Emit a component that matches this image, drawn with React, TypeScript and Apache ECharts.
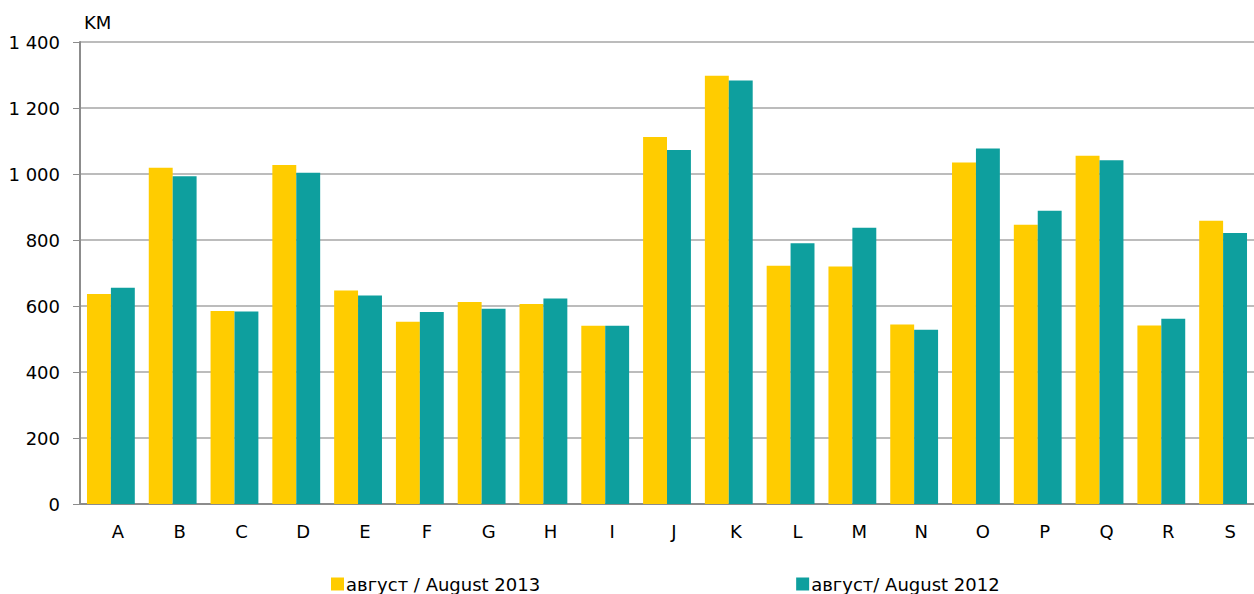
import React, { useEffect, useRef } from "react";
import * as echarts from "echarts";

const categories = ["A", "B", "C", "D", "E", "F", "G", "H", "I", "J", "K", "L", "M", "N", "O", "P", "Q", "R", "S"];
const aug2013 = [636, 1019, 585, 1027, 647, 552, 612, 606, 540, 1112, 1298, 722, 720, 544, 1035, 846, 1055, 541, 858];
const aug2012 = [655, 993, 583, 1004, 632, 582, 592, 623, 540, 1073, 1283, 790, 837, 528, 1077, 889, 1042, 561, 821];
const seriesNames = ["август / August 2013", "август/ August 2012"];
const unitLabel = "KM";

const FONT = "DejaVu Sans";
const FS = 18;

export default function App() {
  const ref = useRef<HTMLDivElement>(null);
  useEffect(() => {
    if (!ref.current) return;
    const chart = echarts.init(ref.current, undefined, { renderer: "svg" });
    chart.setOption({
      animation: false,
      backgroundColor: "#ffffff",
      textStyle: { fontFamily: FONT },
      grid: { left: 80, right: 0, top: 42, bottom: 90, containLabel: false },
      graphic: [
        {
          type: "text",
          left: 84,
          top: 13,
          style: { text: unitLabel, font: `${FS}px "${FONT}"`, fill: "#000" },
        },
      ],
      legend: {
        left: 326,
        top: 570,
        itemWidth: 13,
        itemHeight: 13,
        itemGap: 256,
        icon: "rect",
        textStyle: { fontFamily: FONT, fontSize: FS, color: "#000", padding: [0, 0, 0, -3] },
        data: seriesNames,
      },
      xAxis: {
        type: "category",
        data: categories,
        axisLine: { show: true, lineStyle: { color: "#8c8c8c", width: 2 } },
        axisTick: { show: false },
        axisLabel: {
          color: "#000",
          fontFamily: FONT,
          fontSize: FS,
          margin: 18,
          padding: [0, 0, 0, 14],
        },
      },
      yAxis: {
        type: "value",
        min: 0,
        max: 1400,
        interval: 200,
        axisLine: { show: true, lineStyle: { color: "#8c8c8c", width: 2 } },
        axisTick: { show: true, length: 7, lineStyle: { color: "#8c8c8c", width: 1 } },
        splitLine: { show: true, lineStyle: { color: "#a6a6a6", width: 1.5 } },
        axisLabel: {
          color: "#000",
          fontFamily: FONT,
          fontSize: FS,
          margin: 20,
          formatter: (v: number) => String(v).replace(/\B(?=(\d{3})+(?!\d))/g, " "),
        },
      },
      series: [
        {
          name: seriesNames[0],
          type: "bar",
          data: aug2013,
          itemStyle: { color: "#ffcc00" },
          barGap: "0%",
          barCategoryGap: "22.6%",
        },
        {
          name: seriesNames[1],
          type: "bar",
          data: aug2012,
          itemStyle: { color: "#0e9f9e" },
          barGap: "0%",
          barCategoryGap: "22.6%",
        },
      ],
    });
    return () => chart.dispose();
  }, []);
  return (
    <div
      ref={ref}
      style={{ position: "fixed", left: 0, top: 0, width: 1254, height: 594 }}
    />
  );
}
